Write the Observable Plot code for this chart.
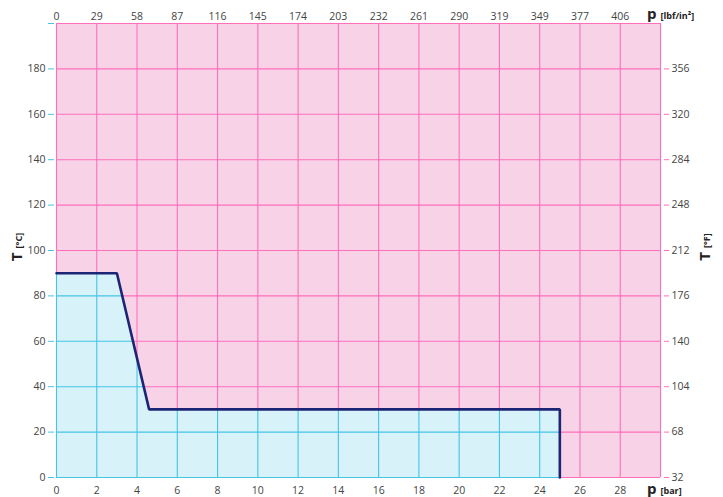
<!DOCTYPE html>
<html>
<head>
<meta charset="utf-8">
<script src="https://cdn.jsdelivr.net/npm/d3@7"></script>
<script src="https://cdn.jsdelivr.net/npm/@observablehq/plot@0.6"></script>
<style>
  html, body { margin: 0; padding: 0; background: #fff; }
  #chart { position: relative; width: 723px; height: 497px; }
  svg { overflow: visible; }
</style>
</head>
<body>
<div id="chart"></div>
<script>
// ---- data ----
const pressureBar = [0, 3, 4.6, 25, 25];
const temperatureC = [90, 90, 30, 30, 0];
const barTicks = [0, 2, 4, 6, 8, 10, 12, 14, 16, 18, 20, 22, 24, 26, 28];
const psiLabels = ["0", "29", "58", "87", "116", "145", "174", "203", "232", "261", "290", "319", "349", "377", "406"];
const celsiusTicks = [0, 20, 40, 60, 80, 100, 120, 140, 160, 180, 200];
const celsiusLabels = ["0", "20", "40", "60", "80", "100", "120", "140", "160", "180", ""];
const fahrenheitTicks = [0, 20, 40, 60, 80, 100, 120, 140, 160, 180];
const fahrenheitLabels = ["32", "68", "104", "140", "176", "212", "248", "284", "320", "356"];
const gridX = [0, 2, 4, 6, 8, 10, 12, 14, 16, 18, 20, 22, 24, 26, 28, 30];
const gridY = [0, 20, 40, 60, 80, 100, 120, 140, 160, 180, 200];

const profile = pressureBar.map((p, i) => ({p, t: temperatureC[i]}));

// colors
const pinkBg = "#f8d3e8", pinkGrid = "#ff6fba", blueFill = "#d8f2fa", cyanGrid = "#45c4e4", navy = "#1c2575";
const font = "'Open Sans', sans-serif";

// split grid lines at the boundary of the permitted (blue) region, derived from profile
function heightAt(x) {
  for (let i = 0; i < profile.length - 1; i++) {
    const a = profile[i], b = profile[i + 1];
    if (a.p !== b.p && x >= Math.min(a.p, b.p) && x <= Math.max(a.p, b.p)) {
      return a.t + (b.t - a.t) * (x - a.p) / (b.p - a.p);
    }
  }
  return 0;
}
function reachAt(y) {
  let best = 0;
  for (let i = 0; i < profile.length - 1; i++) {
    const a = profile[i], b = profile[i + 1];
    if (a.t !== b.t && y >= Math.min(a.t, b.t) && y <= Math.max(a.t, b.t)) {
      const x = a.p + (b.p - a.p) * (y - a.t) / (b.t - a.t);
      if (x > best) best = x;
    }
  }
  return best;
}
const vSeg = gridX.map(x => ({x, cut: heightAt(x)}));
const hSeg = gridY.map(y => ({y, cut: reachAt(y)}));
const [y0, y1] = [gridY[0], gridY[gridY.length - 1]];
const [x0, x1] = [gridX[0], gridX[gridX.length - 1]];

const psiMap = new Map(barTicks.map((d, i) => [d, psiLabels[i]]));
const cMap = new Map(celsiusTicks.map((d, i) => [d, celsiusLabels[i]]));
const fMap = new Map(fahrenheitTicks.map((d, i) => [d, fahrenheitLabels[i]]));

const chart = Plot.plot({
  width: 723,
  height: 497,
  marginLeft: 56,
  marginRight: 63,
  marginTop: 23,
  marginBottom: 20,
  style: {fontFamily: font, fontSize: "10.5px", color: "#444", background: "transparent"},
  x: {domain: [x0, x1]},
  y: {domain: [y0, y1]},
  marks: [
    Plot.frame({fill: pinkBg, stroke: null}),
    Plot.areaY(profile, {x: "p", y: "t", fill: blueFill, curve: "linear"}),
    Plot.ruleX(vSeg, {x: "x", y1: "cut", y2: y1, stroke: pinkGrid, strokeWidth: 1.1}),
    Plot.ruleY(hSeg, {y: "y", x1: "cut", x2: x1, stroke: pinkGrid, strokeWidth: 1.1}),
    Plot.ruleX(vSeg.filter(d => d.cut > 0), {x: "x", y1: y0, y2: "cut", stroke: cyanGrid, strokeWidth: 1.1}),
    Plot.ruleY(hSeg.filter(d => d.cut > 0), {y: "y", x1: x0, x2: "cut", stroke: cyanGrid, strokeWidth: 1.1}),
    Plot.line(profile, {x: "p", y: "t", stroke: navy, strokeWidth: 2.6, strokeLinejoin: "miter"}),
    Plot.axisX({anchor: "bottom", ticks: barTicks, tickSize: 0, tickPadding: 9, label: null, fill: "#444"}),
    Plot.axisX({anchor: "top", ticks: barTicks, tickSize: 0, tickPadding: 4, label: null, tickFormat: d => psiMap.get(d), fill: "#444"}),
    Plot.axisY({anchor: "left", ticks: celsiusTicks, tickSize: 6, tickPadding: 3, dx: -2, stroke: cyanGrid, label: null, tickFormat: d => cMap.get(d), fill: "#444"}),
    Plot.axisY({anchor: "right", ticks: fahrenheitTicks, tickSize: 5, tickPadding: 3, dx: 3, stroke: pinkGrid, label: null, tickFormat: d => fMap.get(d), fill: "#444"})
  ]
});
document.getElementById("chart").appendChild(chart);

// axis titles
const svg = d3.select(chart);
function title(x, y, big, small, rotate) {
  const t = svg.append("text")
    .attr("transform", `translate(${x},${y})` + (rotate ? " rotate(-90)" : ""))
    .attr("text-anchor", rotate ? "middle" : "start")
    .attr("font-family", font)
    .attr("font-weight", "bold")
    .attr("fill", "#222");
  t.append("tspan").attr("font-size", "15px").text(big);
  t.append("tspan").attr("font-size", "9px").attr("dx", "4").text(small);
}
title(22, 247, "T", "[°C]", true);
title(710, 247, "T", "[°F]", true);
title(647, 19, "p", "[lbf/in²]", false);
title(647, 494, "p", "[bar]", false);
</script>
</body>
</html>
